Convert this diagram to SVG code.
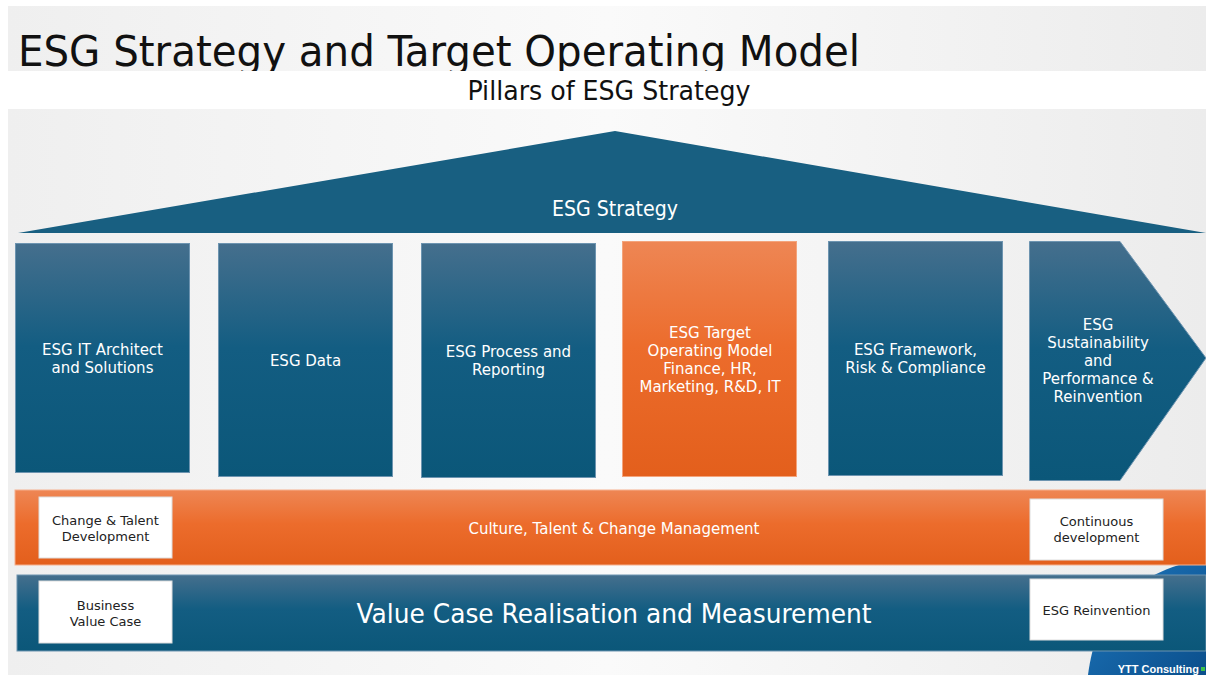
<svg xmlns="http://www.w3.org/2000/svg" width="1206" height="675" viewBox="0 0 1206 675">
  <defs>
    <linearGradient id="bg" x1="0" y1="0" x2="1" y2="0">
      <stop offset="0" stop-color="#efefef"/>
      <stop offset="0.5" stop-color="#fafafa"/>
      <stop offset="1" stop-color="#ececec"/>
    </linearGradient>
    <linearGradient id="blue" x1="0" y1="0" x2="0" y2="1">
      <stop offset="0" stop-color="#456f8d"/>
      <stop offset="0.45" stop-color="#135d82"/>
      <stop offset="1" stop-color="#0b5779"/>
    </linearGradient>
    <linearGradient id="orange" x1="0" y1="0" x2="0" y2="1">
      <stop offset="0" stop-color="#ee8654"/>
      <stop offset="0.45" stop-color="#ec6c2c"/>
      <stop offset="1" stop-color="#e35f1c"/>
    </linearGradient>
    <linearGradient id="swoosh" x1="0" y1="0" x2="1" y2="1">
      <stop offset="0" stop-color="#1f78be"/>
      <stop offset="1" stop-color="#0b4f8c"/>
    </linearGradient>
  </defs>
  <style>
    .cond { font-family: "DejaVu Sans Condensed", "DejaVu Sans", sans-serif; font-stretch: condensed; }
    .pill { stroke: #6d94b0; stroke-width: 1; fill: url(#blue); }
    .pillo { stroke: #f3a47c; stroke-width: 1; fill: url(#orange); }
    .wt { font-family: "DejaVu Sans", Verdana, sans-serif; fill: #ffffff; font-size: 15px; text-anchor: middle; }
    .wt27 { font-size: 27px; }
    .box { fill: #ffffff; stroke: #dddddd; stroke-width: 1; }
    .bt { font-family: "DejaVu Sans", Verdana, sans-serif; fill: #222222; font-size: 13px; text-anchor: middle; }
  </style>

  <rect x="0" y="0" width="1206" height="675" fill="#ffffff"/>
  <rect x="8" y="6" width="1198" height="669" fill="url(#bg)"/>

  <g id="title">
    <text x="18" y="66" class="cond" font-size="43" fill="#111111" textLength="842" lengthAdjust="spacingAndGlyphs">ESG Strategy and Target Operating Model</text>
  </g>
  <g id="subtitle">
    <rect x="8" y="71" width="1198" height="38" fill="#ffffff"/>
    <text x="609" y="100" class="cond" font-size="27" fill="#111111" text-anchor="middle" textLength="283" lengthAdjust="spacingAndGlyphs">Pillars of ESG Strategy</text>
  </g>

  <g id="swoosh">
    <path d="M1088,675 C1096,612 1128,574 1206,558 L1206,675 Z" fill="url(#swoosh)"/>
  </g>

  <g id="roof">
    <polygon points="18,233 615,131 1206,233" fill="#185f81"/>
    <text x="615" y="216" class="cond" font-size="21" fill="#ffffff" text-anchor="middle" textLength="126" lengthAdjust="spacingAndGlyphs">ESG Strategy</text>
  </g>

  <g id="pillar1">
    <rect x="15.5" y="243.5" width="174" height="229" class="pill"/>
    <text class="wt" x="102.5" y="355">ESG IT Architect</text>
    <text class="wt" x="102.5" y="373">and Solutions</text>
  </g>
  <g id="pillar2">
    <rect x="218.5" y="243.5" width="174" height="233" class="pill"/>
    <text class="wt" x="305.5" y="366">ESG Data</text>
  </g>
  <g id="pillar3">
    <rect x="421.5" y="243.5" width="174" height="234" class="pill"/>
    <text class="wt" x="508.5" y="357">ESG Process and</text>
    <text class="wt" x="508.5" y="375">Reporting</text>
  </g>
  <g id="pillar4">
    <rect x="622.5" y="241.5" width="174" height="235" class="pillo"/>
    <text class="wt" x="710" y="338">ESG Target</text>
    <text class="wt" x="710" y="356">Operating Model</text>
    <text class="wt" x="710" y="374">Finance, HR,</text>
    <text class="wt" x="710" y="392">Marketing, R&amp;D, IT</text>
  </g>
  <g id="pillar5">
    <rect x="828.5" y="241.5" width="174" height="234" class="pill"/>
    <text class="wt" x="915.5" y="355">ESG Framework,</text>
    <text class="wt" x="915.5" y="373">Risk &amp; Compliance</text>
  </g>
  <g id="pillar6">
    <polygon points="1029.5,241.5 1120,241.5 1206,358 1120,480.5 1029.5,480.5" class="pill"/>
    <text class="wt" x="1098" y="330">ESG</text>
    <text class="wt" x="1098" y="348">Sustainability</text>
    <text class="wt" x="1098" y="366">and</text>
    <text class="wt" x="1098" y="384">Performance &amp;</text>
    <text class="wt" x="1098" y="402">Reinvention</text>
  </g>

  <g id="culture-band">
    <rect x="15" y="490" width="1191" height="75" fill="url(#orange)" stroke="#f5b08e" stroke-width="1"/>
    <text class="wt" x="614" y="534">Culture, Talent &amp; Change Management</text>
  </g>
  <g id="change-talent">
    <rect x="39" y="497" width="133" height="61" class="box"/>
    <text class="bt" x="105.5" y="525">Change &amp; Talent</text>
    <text class="bt" x="105.5" y="541">Development</text>
  </g>
  <g id="continuous">
    <rect x="1030" y="499" width="133" height="61" class="box"/>
    <text class="bt" x="1096.5" y="526">Continuous</text>
    <text class="bt" x="1096.5" y="542">development</text>
  </g>

  <g id="value-band">
    <rect x="17" y="575" width="1189" height="76" fill="url(#blue)" stroke="#6d94b0" stroke-width="1"/>
    <text class="wt wt27" x="614" y="623" textLength="515" lengthAdjust="spacingAndGlyphs">Value Case Realisation and Measurement</text>
  </g>
  <g id="business-value">
    <rect x="39" y="581" width="133" height="62" class="box"/>
    <text class="bt" x="105.5" y="610">Business</text>
    <text class="bt" x="105.5" y="626">Value Case</text>
  </g>
  <g id="reinvention">
    <rect x="1030" y="579" width="133" height="61" class="box"/>
    <text class="bt" x="1096.5" y="615">ESG Reinvention</text>
  </g>

  <g id="footer">
    <text x="1199" y="673" font-family="Liberation Sans, Arial, sans-serif" font-size="11" font-weight="bold" fill="#ffffff" text-anchor="end">YTT Consulting</text>
    <rect x="1201" y="667" width="4" height="4" fill="#3cc24a"/>
  </g>

  <g id="connectors"></g>
</svg>
